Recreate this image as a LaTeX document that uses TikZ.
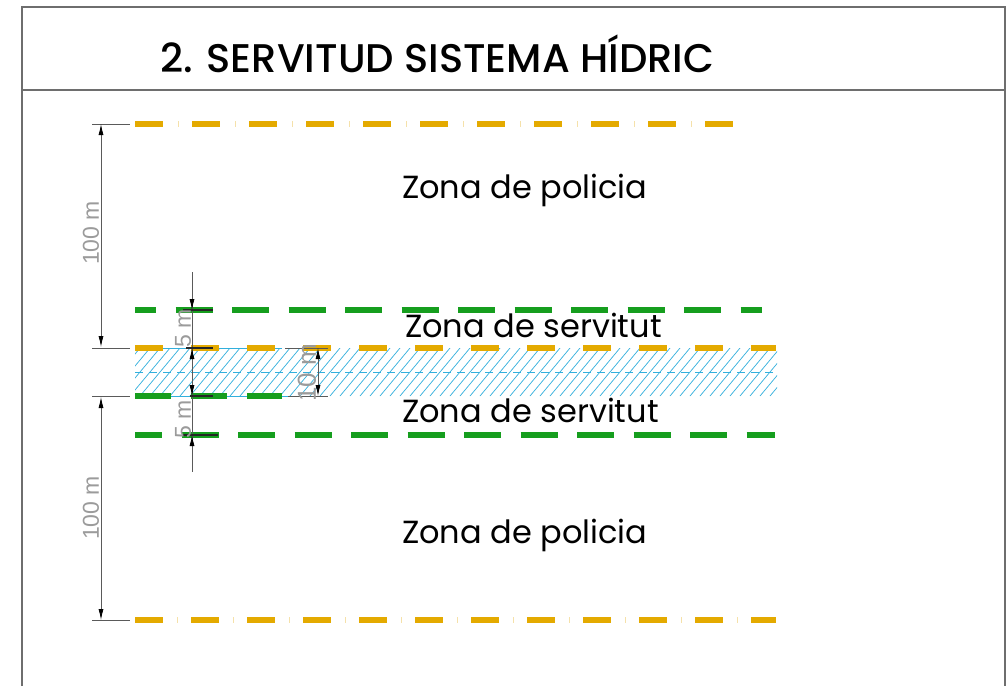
\documentclass[tikz,border=0pt]{standalone}
\usepackage{fontspec}
\setmainfont{Poppins}
\newfontfamily\titlefont{Poppins Medium}
\newfontfamily\dimfont{Liberation Sans}
\usetikzlibrary{arrows.meta}
\definecolor{ora}{RGB}{228,170,0}
\definecolor{oralight}{RGB}{245,225,170}
\definecolor{grn}{RGB}{22,158,30}
\definecolor{hatchc}{RGB}{50,175,220}
\definecolor{framec}{RGB}{110,110,110}
\definecolor{dimtxt}{RGB}{155,155,155}
\definecolor{dimln}{RGB}{90,90,90}
\begin{document}
\begin{tikzpicture}[x=1pt,y=-1pt,
  framestyle/.style={draw=framec,line width=1.6pt},
  oraline/.style={draw=ora,line width=6pt,dash pattern=on 28pt off 28pt},
  oradots/.style={draw=oralight,line width=6pt,dash pattern=on 1pt off 55pt},
  grnline/.style={draw=grn,line width=6.5pt,dash pattern=on 37pt off 19.5pt},
  hatchline/.style={draw=hatchc,line width=0.7pt},
  dimline/.style={draw=dimln,line width=0.8pt},
  extline/.style={draw=dimln,line width=1pt},
  tickline/.style={draw=black!85,line width=1.6pt},
  arr/.style={{Latex[black,length=11pt,width=5pt]}-{Latex[black,length=11pt,width=5pt]}},
  dimlabel/.style={font=\dimfont\fontsize{23}{23}\selectfont,text=dimtxt,rotate=90,inner sep=0pt},
  zonelabel/.style={font=\fontsize{32}{32}\selectfont,anchor=base west,inner sep=0pt},
]
\useasboundingbox (0,0) rectangle (1006,686);
% frame
\draw[framestyle] (22,686) -- (22,7) -- (1005,7) -- (1005,686);
\draw[framestyle] (22,90) -- (1005,90);
\node[font=\titlefont\fontsize{40}{40}\selectfont,anchor=base west,inner sep=0pt] (title) at (160,72) {2. SERVITUD SISTEMA HÍDRIC};

% river band hatch
\begin{scope}
\clip (135,348) rectangle (777,396);
\foreach \x in {90,100,...,790} \draw[hatchline] (\x,396) -- (\x+40,348);
\end{scope}
\draw[draw=hatchc,line width=0.8pt,dash pattern=on 8pt off 6pt] (135,372) -- (777,372);
\draw[draw=hatchc,line width=1pt] (135,348) -- (282,348);
\draw[draw=hatchc,line width=1pt] (135,396) -- (290,396);

% orange lines
\draw[oraline,dash pattern=on 28pt off 29pt] (135,124) -- (735,124);
\draw[oradots,dash pattern=on 1pt off 56pt] (178,124) -- (735,124);
\draw[oraline] (135,348) -- (776,348);
\draw[oraline] (135,620) -- (776,620);
\draw[oradots] (177,620) -- (776,620);
% green lines
\draw[grnline,dash phase=16pt] (135,310) -- (762,310);
\draw[grnline,dash pattern=on 36pt off 20pt] (135,396) -- (282,396);
\draw[grnline,dash phase=10pt] (135,435) -- (775,435);

% big dimensions
\coordinate (e1a) at (92,124); \coordinate (e1b) at (130,124);
\coordinate (e2a) at (92,348); \coordinate (e2b) at (130,348);
\coordinate (e3a) at (92,396); \coordinate (e3b) at (130,396);
\coordinate (e4a) at (92,620); \coordinate (e4b) at (130,620);
\draw[extline] (e1a) -- (e1b);
\draw[extline] (e2a) -- (e2b);
\draw[extline] (e3a) -- (e3b);
\draw[extline] (e4a) -- (e4b);
\coordinate (d1a) at (101,124); \coordinate (d1b) at (101,347);
\coordinate (d2a) at (101,397); \coordinate (d2b) at (101,620);
\draw[dimline,arr] (d1a) -- (d1b);
\draw[dimline,arr] (d2a) -- (d2b);
\node[dimlabel] (l100a) at (91,233) {100 m};
\node[dimlabel] (l100b) at (91,508) {100 m};

% small dimensions
\coordinate (s0) at (192,272);
\coordinate (s1) at (192,310);
\coordinate (s2) at (192,348);
\coordinate (s3) at (192,396);
\coordinate (s4) at (192,435);
\coordinate (s5) at (192,472);
\draw[dimline] (s0) -- (s5);
\draw[dimline,-{Latex[black,length=11pt,width=5pt]}] (192,290) -- (s1);
\draw[dimline,-{Latex[black,length=11pt,width=5pt]}] (192,370) -- (s2);
\draw[dimline,-{Latex[black,length=11pt,width=5pt]}] (192,374) -- (s3);
\draw[dimline,-{Latex[black,length=11pt,width=5pt]}] (192,457) -- (s4);
\draw[tickline] (183,310) -- (213,310);
\draw[tickline] (186,348) -- (213,348);
\draw[tickline] (190,396) -- (213,396);
\draw[tickline] (183,435) -- (218,435);
\node[dimlabel] (l5a) at (183,328) {5 m};
\node[dimlabel] (l5b) at (183,419) {5 m};

% 10 m dimension
\coordinate (t1a) at (285,348); \coordinate (t1b) at (328,348);
\coordinate (t2a) at (288,396); \coordinate (t2b) at (328,396);
\draw[extline] (t1a) -- (t1b);
\draw[extline] (t2a) -- (t2b);
\coordinate (t1) at (318,348); \coordinate (t2) at (318,396);
\draw[dimline,arr] (t1) -- (t2);
\node[dimlabel,font=\dimfont\fontsize{26}{26}\selectfont] (l10) at (307,373) {10 m};

% zone labels
\node[zonelabel] (zp1) at (402,198) {Zona de policia};
\node[zonelabel] (zs1) at (405,337) {Zona de servitut};
\node[zonelabel] (zs2) at (402,422) {Zona de servitut};
\node[zonelabel] (zp2) at (402,543) {Zona de policia};
\end{tikzpicture}
\end{document}
